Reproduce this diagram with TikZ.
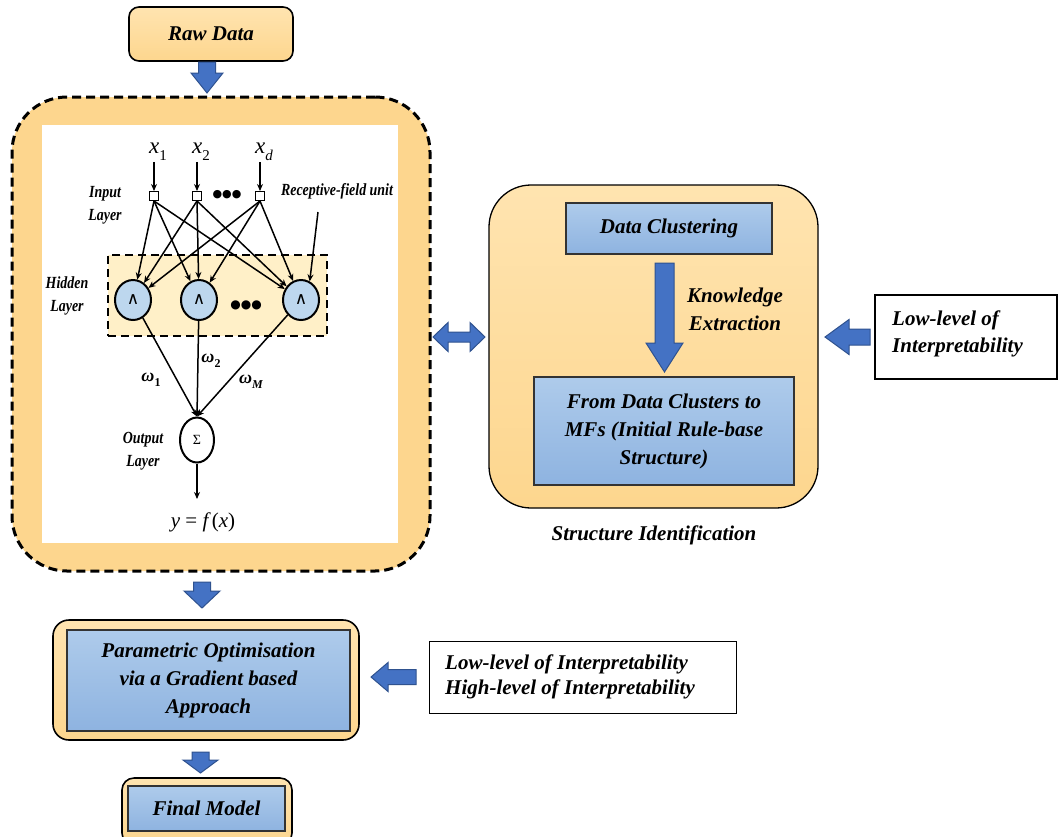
\documentclass[tikz,border=0pt]{standalone}
\usepackage{fontspec}
\setmainfont{Liberation Serif}
\newfontfamily\dvsfont{DejaVu Sans}
\usetikzlibrary{shapes.geometric,arrows.meta}
\definecolor{orfill}{HTML}{FDD68E}
\definecolor{orlight}{HTML}{FFE4B0}
\definecolor{bltop}{HTML}{AECBEB}
\definecolor{blbot}{HTML}{8EB3E0}
\definecolor{arfill}{HTML}{4472C4}
\definecolor{ardraw}{HTML}{2F528F}
\definecolor{hidfill}{HTML}{FFF0C8}
\definecolor{nodefill}{HTML}{BDD7EE}
\newcommand{\BArrowDown}[6]{%
  \draw[barrow] ({#1-#5},#2) -- ({#1+#5},#2) -- ({#1+#5},#3) -- ({#1+#6},#3) -- (#1,#4) -- ({#1-#6},#3) -- ({#1-#5},#3) -- cycle;}
\newcommand{\BArrowLeft}[6]{%
  \draw[barrow] (#2,{#1-#5}) -- (#2,{#1+#5}) -- (#3,{#1+#5}) -- (#3,{#1+#6}) -- (#4,#1) -- (#3,{#1-#6}) -- (#3,{#1-#5}) -- cycle;}
\newcommand{\CondText}[1]{\scalebox{0.82}[1]{\begin{tabular}{@{}c@{}}#1\end{tabular}}}
\newcommand{\SubLbl}[3]{{\itshape #1}\raisebox{-0.3em}{\fontsize{#3}{#3}\selectfont #2}}
\tikzset{
  barrow/.style={fill=arfill, draw=ardraw, line width=1pt, line join=miter},
  orbox/.style={draw=black, line width=1.6pt, top color=orlight, bottom color=orfill, rounded corners=#1, inner sep=0pt},
  blbox/.style={draw=black!80, line width=1.3pt, top color=bltop, bottom color=blbot, inner sep=0pt, align=center,
     font=\fontsize{21}{28}\selectfont\bfseries\itshape},
  plainbox/.style={draw=black, line width=1.3pt, fill=white, inner sep=0pt},
  bigtxt/.style={font=\fontsize{21}{27}\selectfont\bfseries\itshape, align=center, inner sep=0pt},
  lbl/.style={font=\fontsize{17}{23}\selectfont\bfseries\itshape, align=center, inner sep=0pt},
  mathlbl/.style={font=\fontsize{23}{24}\selectfont, inner sep=1pt},
  nnarr/.style={line width=1.5pt, -{Stealth[length=7pt,width=6pt]}},
  hnode/.style={ellipse, draw=black, line width=2pt, fill=nodefill, minimum width=36pt, minimum height=40pt, inner sep=0pt, font=\dvsfont\fontsize{17}{17}\selectfont},
  sqnode/.style={rectangle, draw=black, line width=1pt, fill=white, minimum size=9pt, inner sep=0pt},
}
\begin{document}
\begin{tikzpicture}[x=1pt,y=-1pt]
\clip (0,0) rectangle (1059,836);
\fill[white] (0,0) rectangle (1059,836);

% Raw data
\node[orbox=10pt, minimum width=164pt, minimum height=54pt, font=\fontsize{21}{26}\selectfont\bfseries\itshape] (raw) at (211,34) {Raw Data};
\BArrowDown{207}{62}{73}{93}{8.5}{16}

% big dashed container
\node[draw=black, line width=3pt, dash pattern=on 9pt off 5pt, fill=orfill, rounded corners=55pt, minimum width=418pt, minimum height=474pt] (net) at (221,334) {};
\node[fill=white, minimum width=356pt, minimum height=418pt, inner sep=0pt] (panel) at (220,334) {};

% hidden layer band
\node[draw=black, line width=2pt, dash pattern=on 8pt off 5pt, fill=hidfill, minimum width=219pt, minimum height=81pt, inner sep=0pt] (hid) at (217.5,295.5) {};

% input squares
\node[sqnode] (s1) at (154,196) {};
\node[sqnode] (s2) at (197,196) {};
\node[sqnode] (s3) at (260,196) {};
\node[mathlbl] (x1) at (158,152) {\SubLbl{x}{1}{15}};
\node[mathlbl] (x2) at (201,152) {\SubLbl{x}{2}{15}};
\node[mathlbl] (xd) at (264,152) {\SubLbl{x}{\itshape d}{15}};
\draw[nnarr] (s1 |- x1.south) -- (s1.north);
\draw[nnarr] (s2 |- x2.south) -- (s2.north);
\draw[nnarr] (s3 |- xd.south) -- (s3.north);
\node[font=\dvsfont\fontsize{11}{11}\selectfont] (dots1) at (227,195) {●●●};

% hidden nodes
\node[hnode] (h1) at (133,300) {∧};
\node[hnode] (h2) at (199,300) {∧};
\node[hnode] (h3) at (301,300) {∧};
\node[font=\dvsfont\fontsize{12}{12}\selectfont] (dots2) at (246,305) {●●●};

\foreach \s in {s1,s2,s3}{
  \foreach \h in {h1,h2,h3}{
    \draw[nnarr] (\s.south) -- (\h);
  }
}

% receptive field
\node[lbl] (rfu) at (337,191) {\CondText{Receptive-field unit}};
\coordinate (rf) at (318,212);
\draw[nnarr] (rf) -- (h3.65);

% labels
\node[lbl] (inl) at (105,204) {\CondText{Input\\Layer}};
\node[lbl] (hdl) at (67,295) {\CondText{Hidden\\Layer}};
\node[lbl] (oul) at (143,450) {\CondText{Output\\Layer}};

% output node
\node[ellipse, draw=black, line width=2pt, fill=white, minimum width=34pt, minimum height=45pt, inner sep=0pt, font=\fontsize{14}{14}\selectfont] (sum) at (197,440) {Σ};
\draw[nnarr] (h1) -- (sum.north);
\draw[nnarr] (h2) -- (sum.north);
\draw[nnarr] (h3) -- (sum.north);
\node[mathlbl, font=\fontsize{18}{18}\selectfont\bfseries] (w1) at (151,380) {\SubLbl{ω}{1}{12}};
\node[mathlbl, font=\fontsize{18}{18}\selectfont\bfseries] (w2) at (211,361) {\SubLbl{ω}{2}{12}};
\node[mathlbl, font=\fontsize{18}{18}\selectfont\bfseries] (wm) at (251,382) {\SubLbl{ω}{\itshape M}{12}};
\coordinate (yout) at (197,499);
\draw[nnarr] (sum.south) -- (yout);
\node[mathlbl, font=\fontsize{21}{22}\selectfont] (yf) at (203,522) {{\itshape y} = {\itshape f}\,({\itshape x})};

% double arrow
\draw[barrow] (433,337) -- (448,322.5) -- (448,332) -- (470,332) -- (470,322.5) -- (485,337) -- (470,351.5) -- (470,342) -- (448,342) -- (448,351.5) -- cycle;

% structure identification
\node[orbox=42pt, line width=1.3pt, minimum width=329pt, minimum height=323pt] (sib) at (653.5,346.5) {};
\node[blbox, minimum width=206pt, minimum height=51pt] (dc) at (669,228.5) {Data Clustering};
\node[blbox, minimum width=260pt, minimum height=108pt] (fdc) at (664,431) {From Data Clusters to\\MFs (Initial Rule-base\\Structure)};
\BArrowDown{664.5}{263}{343}{372}{9.5}{18.5}
\node[bigtxt, font=\fontsize{21}{28}\selectfont\bfseries\itshape] (ke) at (735,309) {Knowledge\\Extraction};
\node[bigtxt] (sid) at (654,535) {Structure Identification};

% low-level box (right)
\node[plainbox, minimum width=182pt, minimum height=84pt] (lowb) at (966,337) {};
\node[bigtxt, align=left, anchor=west] (lowt) at (892,334) {Low-level of\\Interpretability};
\BArrowLeft{337}{870}{849}{825}{8}{17.5}

% parametric
\BArrowDown{202}{582}{591}{608}{8.5}{18}
\node[orbox=16pt, minimum width=306pt, minimum height=120pt] (po) at (206,680) {};
\node[blbox, minimum width=283pt, minimum height=101pt] (pi) at (208.5,680.5) {Parametric Optimisation\\via a Gradient based\\Approach};
\node[plainbox, line width=1pt, minimum width=307pt, minimum height=72pt] (lh) at (582.5,677) {};
\node[bigtxt, align=left, anchor=west, font=\fontsize{21}{25}\selectfont\bfseries\itshape] (lht) at (445,677) {Low-level of Interpretability\\High-level of Interpretability};
\BArrowLeft{677}{416}{388}{371}{7.5}{14.5}

% final model
\BArrowDown{200.5}{752}{760}{773}{8.5}{17.5}
\node[orbox=12pt, minimum width=170pt, minimum height=67pt] (fo) at (207,811.5) {};
\node[blbox, minimum width=157pt, minimum height=45pt] (fi) at (206.5,808.5) {Final Model};
\end{tikzpicture}
\end{document}
